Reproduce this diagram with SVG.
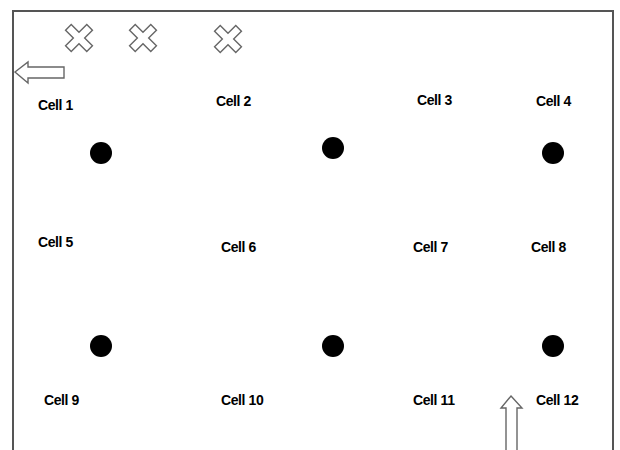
<svg xmlns="http://www.w3.org/2000/svg" width="620" height="450" viewBox="0 0 620 450">
<style>
.lbl{font-family:"Liberation Sans",Arial,sans-serif;font-weight:bold;font-size:14px;fill:#000;letter-spacing:-0.4px}
.dot{fill:#000}
.outline{fill:#fff;stroke:#666;stroke-width:1.4;stroke-linejoin:miter}
</style>
<defs>
<polygon id="xmark" points="4,15 4,4 15,4 15,-4 4,-4 4,-15 -4,-15 -4,-4 -15,-4 -15,4 -4,4 -4,15" transform="rotate(45)"/>
</defs>
<rect width="620" height="450" fill="#fff"/>
<path d="M13,452 V11 H613 V452" fill="none" stroke="#555" stroke-width="2"/>
<g id="marks">
<use href="#xmark" class="outline" transform="translate(79,38)"/>
<use href="#xmark" class="outline" transform="translate(143,38)"/>
<use href="#xmark" class="outline" transform="translate(228,39)"/>
</g>
<g id="connectors">
<polygon class="outline" points="15,72 28,62 28,67 64,67 64,78 28,78 28,83"/>
<polygon class="outline" points="511,396 522,408 517,408 517,451 506,451 506,408 501,408"/>
</g>
<g id="cell1"><text class="lbl" x="38" y="110">Cell 1</text><circle class="dot" cx="101" cy="153" r="11"/></g>
<g id="cell2"><text class="lbl" x="216" y="106">Cell 2</text></g>
<g id="cell3"><text class="lbl" x="417" y="105">Cell 3</text><circle class="dot" cx="333" cy="148" r="11"/></g>
<g id="cell4"><text class="lbl" x="536" y="106">Cell 4</text><circle class="dot" cx="553" cy="153" r="11"/></g>
<g id="cell5"><text class="lbl" x="38" y="247">Cell 5</text></g>
<g id="cell6"><text class="lbl" x="221" y="252">Cell 6</text></g>
<g id="cell7"><text class="lbl" x="413" y="252">Cell 7</text></g>
<g id="cell8"><text class="lbl" x="531" y="252">Cell 8</text></g>
<g id="cell9"><text class="lbl" x="44" y="405">Cell 9</text><circle class="dot" cx="101" cy="346" r="11"/></g>
<g id="cell10"><text class="lbl" x="221" y="405">Cell 10</text><circle class="dot" cx="333" cy="346" r="11"/></g>
<g id="cell11"><text class="lbl" x="413" y="405">Cell 11</text></g>
<g id="cell12"><text class="lbl" x="536" y="405">Cell 12</text><circle class="dot" cx="553" cy="346" r="11"/></g>
</svg>
